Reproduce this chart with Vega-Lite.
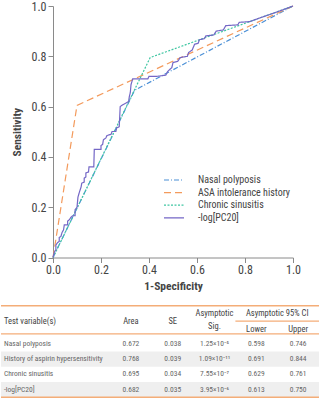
{
  "$schema": "https://vega.github.io/schema/vega-lite/v6.json",
  "width": 319,
  "height": 251.5,
  "padding": 0,
  "background": "white",
  "config": {
    "view": {"stroke": null},
    "font": "Liberation Sans Narrow, Roboto Condensed, Arial Narrow, sans-serif",
    "axis": {"grid": false, "domainColor": "#8a8a8a", "tickColor": "#8a8a8a", "labelColor": "#444444", "titleColor": "#444444", "labelFontSize": 12, "titleFontSize": 11.5, "tickSize": 5, "labelFlush": false}
  },
  "datasets": {
    "roc": [
      {"series": "Nasal polyposis", "i": 0, "fpr": 0, "tpr": 0},
      {"series": "Nasal polyposis", "i": 1, "fpr": 0.34, "tpr": 0.665},
      {"series": "Nasal polyposis", "i": 2, "fpr": 1, "tpr": 1},
      {"series": "ASA intolerance history", "i": 0, "fpr": 0, "tpr": 0},
      {"series": "ASA intolerance history", "i": 1, "fpr": 0.1, "tpr": 0.605},
      {"series": "ASA intolerance history", "i": 2, "fpr": 1, "tpr": 1},
      {"series": "Chronic sinusitis", "i": 0, "fpr": 0, "tpr": 0},
      {"series": "Chronic sinusitis", "i": 1, "fpr": 0.405, "tpr": 0.795},
      {"series": "Chronic sinusitis", "i": 2, "fpr": 1, "tpr": 1},
      {"series": "-log[PC20]", "i": 0, "fpr": 0, "tpr": 0},
      {"series": "-log[PC20]", "i": 1, "fpr": 0.005, "tpr": 0.02},
      {"series": "-log[PC20]", "i": 2, "fpr": 0.012, "tpr": 0.031},
      {"series": "-log[PC20]", "i": 3, "fpr": 0.012, "tpr": 0.05},
      {"series": "-log[PC20]", "i": 4, "fpr": 0.02, "tpr": 0.06},
      {"series": "-log[PC20]", "i": 5, "fpr": 0.026, "tpr": 0.064},
      {"series": "-log[PC20]", "i": 6, "fpr": 0.026, "tpr": 0.08},
      {"series": "-log[PC20]", "i": 7, "fpr": 0.033, "tpr": 0.084},
      {"series": "-log[PC20]", "i": 8, "fpr": 0.038, "tpr": 0.1},
      {"series": "-log[PC20]", "i": 9, "fpr": 0.044, "tpr": 0.11},
      {"series": "-log[PC20]", "i": 10, "fpr": 0.047, "tpr": 0.13},
      {"series": "-log[PC20]", "i": 11, "fpr": 0.061, "tpr": 0.13},
      {"series": "-log[PC20]", "i": 12, "fpr": 0.061, "tpr": 0.145},
      {"series": "-log[PC20]", "i": 13, "fpr": 0.068, "tpr": 0.15},
      {"series": "-log[PC20]", "i": 14, "fpr": 0.075, "tpr": 0.16},
      {"series": "-log[PC20]", "i": 15, "fpr": 0.082, "tpr": 0.166},
      {"series": "-log[PC20]", "i": 16, "fpr": 0.092, "tpr": 0.166},
      {"series": "-log[PC20]", "i": 17, "fpr": 0.092, "tpr": 0.19},
      {"series": "-log[PC20]", "i": 18, "fpr": 0.1, "tpr": 0.2},
      {"series": "-log[PC20]", "i": 19, "fpr": 0.104, "tpr": 0.24},
      {"series": "-log[PC20]", "i": 20, "fpr": 0.11, "tpr": 0.26},
      {"series": "-log[PC20]", "i": 21, "fpr": 0.117, "tpr": 0.28},
      {"series": "-log[PC20]", "i": 22, "fpr": 0.12, "tpr": 0.296},
      {"series": "-log[PC20]", "i": 23, "fpr": 0.13, "tpr": 0.3},
      {"series": "-log[PC20]", "i": 24, "fpr": 0.13, "tpr": 0.316},
      {"series": "-log[PC20]", "i": 25, "fpr": 0.137, "tpr": 0.32},
      {"series": "-log[PC20]", "i": 26, "fpr": 0.137, "tpr": 0.336},
      {"series": "-log[PC20]", "i": 27, "fpr": 0.148, "tpr": 0.34},
      {"series": "-log[PC20]", "i": 28, "fpr": 0.15, "tpr": 0.36},
      {"series": "-log[PC20]", "i": 29, "fpr": 0.17, "tpr": 0.36},
      {"series": "-log[PC20]", "i": 30, "fpr": 0.172, "tpr": 0.43},
      {"series": "-log[PC20]", "i": 31, "fpr": 0.2, "tpr": 0.43},
      {"series": "-log[PC20]", "i": 32, "fpr": 0.2, "tpr": 0.445},
      {"series": "-log[PC20]", "i": 33, "fpr": 0.207, "tpr": 0.45},
      {"series": "-log[PC20]", "i": 34, "fpr": 0.21, "tpr": 0.468},
      {"series": "-log[PC20]", "i": 35, "fpr": 0.22, "tpr": 0.475},
      {"series": "-log[PC20]", "i": 36, "fpr": 0.225, "tpr": 0.485},
      {"series": "-log[PC20]", "i": 37, "fpr": 0.242, "tpr": 0.49},
      {"series": "-log[PC20]", "i": 38, "fpr": 0.246, "tpr": 0.501},
      {"series": "-log[PC20]", "i": 39, "fpr": 0.262, "tpr": 0.501},
      {"series": "-log[PC20]", "i": 40, "fpr": 0.265, "tpr": 0.515},
      {"series": "-log[PC20]", "i": 41, "fpr": 0.276, "tpr": 0.52},
      {"series": "-log[PC20]", "i": 42, "fpr": 0.28, "tpr": 0.6},
      {"series": "-log[PC20]", "i": 43, "fpr": 0.29, "tpr": 0.607},
      {"series": "-log[PC20]", "i": 44, "fpr": 0.304, "tpr": 0.614},
      {"series": "-log[PC20]", "i": 45, "fpr": 0.315, "tpr": 0.62},
      {"series": "-log[PC20]", "i": 46, "fpr": 0.318, "tpr": 0.64},
      {"series": "-log[PC20]", "i": 47, "fpr": 0.322, "tpr": 0.655},
      {"series": "-log[PC20]", "i": 48, "fpr": 0.325, "tpr": 0.687},
      {"series": "-log[PC20]", "i": 49, "fpr": 0.332, "tpr": 0.71},
      {"series": "-log[PC20]", "i": 50, "fpr": 0.395, "tpr": 0.71},
      {"series": "-log[PC20]", "i": 51, "fpr": 0.4, "tpr": 0.72},
      {"series": "-log[PC20]", "i": 52, "fpr": 0.43, "tpr": 0.72},
      {"series": "-log[PC20]", "i": 53, "fpr": 0.47, "tpr": 0.725},
      {"series": "-log[PC20]", "i": 54, "fpr": 0.478, "tpr": 0.74},
      {"series": "-log[PC20]", "i": 55, "fpr": 0.495, "tpr": 0.755},
      {"series": "-log[PC20]", "i": 56, "fpr": 0.5, "tpr": 0.775},
      {"series": "-log[PC20]", "i": 57, "fpr": 0.52, "tpr": 0.78},
      {"series": "-log[PC20]", "i": 58, "fpr": 0.53, "tpr": 0.795},
      {"series": "-log[PC20]", "i": 59, "fpr": 0.56, "tpr": 0.8},
      {"series": "-log[PC20]", "i": 60, "fpr": 0.565, "tpr": 0.815},
      {"series": "-log[PC20]", "i": 61, "fpr": 0.58, "tpr": 0.825},
      {"series": "-log[PC20]", "i": 62, "fpr": 0.59, "tpr": 0.848},
      {"series": "-log[PC20]", "i": 63, "fpr": 0.605, "tpr": 0.852},
      {"series": "-log[PC20]", "i": 64, "fpr": 0.61, "tpr": 0.866},
      {"series": "-log[PC20]", "i": 65, "fpr": 0.63, "tpr": 0.87},
      {"series": "-log[PC20]", "i": 66, "fpr": 0.637, "tpr": 0.881},
      {"series": "-log[PC20]", "i": 67, "fpr": 0.67, "tpr": 0.885},
      {"series": "-log[PC20]", "i": 68, "fpr": 0.68, "tpr": 0.9},
      {"series": "-log[PC20]", "i": 69, "fpr": 0.71, "tpr": 0.905},
      {"series": "-log[PC20]", "i": 70, "fpr": 0.72, "tpr": 0.922},
      {"series": "-log[PC20]", "i": 71, "fpr": 0.77, "tpr": 0.925},
      {"series": "-log[PC20]", "i": 72, "fpr": 0.776, "tpr": 0.935},
      {"series": "-log[PC20]", "i": 73, "fpr": 0.82, "tpr": 0.938},
      {"series": "-log[PC20]", "i": 74, "fpr": 0.86, "tpr": 0.952},
      {"series": "-log[PC20]", "i": 75, "fpr": 0.93, "tpr": 0.975},
      {"series": "-log[PC20]", "i": 76, "fpr": 1, "tpr": 1}
    ],
    "table": [
      {"variable": "Nasal polyposis", "Area": "0.672", "SE": "0.038", "Sig": "1.25×10⁻⁵", "Lower": "0.598", "Upper": "0.746"},
      {"variable": "History of aspirin hypersensitivity", "Area": "0.768", "SE": "0.039", "Sig": "1.09×10⁻¹¹", "Lower": "0.691", "Upper": "0.844"},
      {"variable": "Chronic sinusitis", "Area": "0.695", "SE": "0.034", "Sig": "7.55×10⁻⁷", "Lower": "0.629", "Upper": "0.761"},
      {"variable": "-log[PC20]", "Area": "0.682", "SE": "0.035", "Sig": "3.95×10⁻⁶", "Lower": "0.613", "Upper": "0.750"}
    ]
  },
  "layer": [
    {
      "data": {"name": "roc"},
      "mark": {"type": "line", "strokeWidth": 1.2},
      "encoding": {
        "x": {"field": "fpr", "type": "quantitative", "scale": {"domain": [0, 1], "range": [52, 292], "nice": false, "zero": false},
              "axis": {"title": "1-Specificity", "values": [0, 0.2, 0.4, 0.6, 0.8, 1], "format": ".1f", "labelFlush": false, "labelPadding": 2, "titlePadding": 5, "titleFontWeight": "bold"}},
        "y": {"field": "tpr", "type": "quantitative", "scale": {"domain": [0, 1], "nice": false},
              "axis": {"title": "Sensitivity", "offset": -52, "values": [0, 0.2, 0.4, 0.6, 0.8, 1], "format": ".1f", "labelFlush": false, "labelPadding": 2, "titlePadding": 8, "titleFontWeight": "bold"}},
        "color": {"field": "series", "type": "nominal",
                  "scale": {"domain": ["Nasal polyposis", "ASA intolerance history", "Chronic sinusitis", "-log[PC20]"], "range": ["#4a8fd6", "#f39a5c", "#3fc6a2", "#7467c6"]},
                  "legend": {"orient": "none", "legendX": 167, "legendY": 168, "title": null, "symbolType": "M-2,0H2", "symbolSize": 100, "symbolStrokeWidth": 1.2, "labelFontSize": 10, "labelColor": "#444444", "labelOffset": 18, "rowPadding": 1.6}},
        "strokeDash": {"field": "series", "type": "nominal",
                  "scale": {"domain": ["Nasal polyposis", "ASA intolerance history", "Chronic sinusitis", "-log[PC20]"], "range": [[5, 2, 1, 2], [7, 4], [2, 1.5], [1, 0]]},
                  "legend": {"orient": "none", "legendX": 167, "legendY": 168, "title": null, "symbolType": "M-2,0H2", "symbolSize": 100, "symbolStrokeWidth": 1.2, "labelFontSize": 10, "labelColor": "#444444", "labelOffset": 18, "rowPadding": 1.6}},
        "order": {"field": "i", "type": "quantitative"}
      }
    },
    {
      "layer": [
        {
          "data": {"name": "table"},
          "transform": [{"filter": {"field": "variable", "oneOf": ["History of aspirin hypersensitivity", "-log[PC20]"]}}],
          "mark": {"type": "bar", "color": "#efefef"},
          "encoding": {
            "y": {"field": "variable", "type": "nominal", "axis": null,
                  "scale": {"type": "band", "domain": ["h1", "h2", "Nasal polyposis", "History of aspirin hypersensitivity", "Chronic sinusitis", "-log[PC20]"], "range": [299.8, 391.3], "paddingInner": 0, "paddingOuter": 0}}
          }
        },
        {
          "data": {"values": [{}]},
          "mark": {"type": "rule", "color": "#f4ad78", "strokeWidth": 1.5},
          "encoding": {"y": {"datum": "h1", "type": "nominal", "bandPosition": 0, "axis": null}}
        },
        {
          "data": {"values": [{}]},
          "mark": {"type": "rule", "color": "#f4ad78", "strokeWidth": 1.2},
          "encoding": {"y": {"datum": "h2", "type": "nominal", "bandPosition": 0.84, "axis": null}}
        },
        {
          "data": {"values": [{}]},
          "mark": {"type": "rule", "color": "#f4ad78", "strokeWidth": 1.5},
          "encoding": {"y": {"datum": "-log[PC20]", "type": "nominal", "bandPosition": 1, "axis": null}}
        },
        {
          "data": {"values": [{}]},
          "mark": {"type": "rule", "color": "#f4ad78", "strokeWidth": 1.2},
          "encoding": {
            "x": {"datum": "Lower", "type": "nominal", "bandPosition": 0, "axis": null,
                  "scale": {"type": "band", "domain": ["Area", "SE", "Sig", "Lower", "Upper"], "range": [109, 318], "paddingInner": 0, "paddingOuter": 0}},
            "x2": {"datum": "Upper", "bandPosition": 1},
            "y": {"datum": "h1", "type": "nominal", "bandPosition": 1, "axis": null}
          }
        },
        {
          "data": {"name": "table"},
          "transform": [{"fold": ["Area", "SE", "Sig", "Lower", "Upper"], "as": ["col", "val"]}],
          "mark": {"type": "text", "fontSize": 7.5, "color": "#666666"},
          "encoding": {
            "x": {"field": "col", "type": "nominal", "axis": null},
            "y": {"field": "variable", "type": "nominal", "axis": null},
            "text": {"field": "val"}
          }
        },
        {
          "data": {"name": "table"},
          "mark": {"type": "text", "fontSize": 7.5, "color": "#666666", "align": "left", "dx": -106},
          "encoding": {
            "x": {"datum": "Area", "type": "nominal", "bandPosition": 0, "axis": null},
            "y": {"field": "variable", "type": "nominal", "axis": null},
            "text": {"field": "variable"}
          }
        },
        {
          "data": {"values": [{}]},
          "mark": {"type": "text", "fontSize": 8.5, "color": "#444444", "align": "left", "dx": -106},
          "encoding": {
            "x": {"datum": "Area", "type": "nominal", "bandPosition": 0, "axis": null},
            "y": {"datum": "h1", "type": "nominal", "bandPosition": 1, "axis": null},
            "text": {"value": "Test variable(s)"}
          }
        },
        {
          "data": {"values": [{}]},
          "mark": {"type": "text", "fontSize": 8.5, "color": "#444444"},
          "encoding": {
            "x": {"datum": "Area", "type": "nominal", "axis": null},
            "y": {"datum": "h1", "type": "nominal", "bandPosition": 1, "axis": null},
            "text": {"value": "Area"}
          }
        },
        {
          "data": {"values": [{}]},
          "mark": {"type": "text", "fontSize": 8.5, "color": "#444444"},
          "encoding": {
            "x": {"datum": "SE", "type": "nominal", "axis": null},
            "y": {"datum": "h1", "type": "nominal", "bandPosition": 1, "axis": null},
            "text": {"value": "SE"}
          }
        },
        {
          "data": {"values": [{}]},
          "mark": {"type": "text", "fontSize": 8.5, "color": "#444444"},
          "encoding": {
            "x": {"datum": "Sig", "type": "nominal", "axis": null},
            "y": {"datum": "h1", "type": "nominal", "bandPosition": 0.5, "axis": null},
            "text": {"value": "Asymptotic"}
          }
        },
        {
          "data": {"values": [{}]},
          "mark": {"type": "text", "fontSize": 8.5, "color": "#444444"},
          "encoding": {
            "x": {"datum": "Sig", "type": "nominal", "axis": null},
            "y": {"datum": "h2", "type": "nominal", "bandPosition": 0.3, "axis": null},
            "text": {"value": "Sig."}
          }
        },
        {
          "data": {"values": [{}]},
          "mark": {"type": "text", "fontSize": 8.5, "color": "#444444"},
          "encoding": {
            "x": {"datum": "Lower", "type": "nominal", "bandPosition": 1, "axis": null},
            "y": {"datum": "h1", "type": "nominal", "bandPosition": 0.5, "axis": null},
            "text": {"value": "Asymptotic 95% CI"}
          }
        },
        {
          "data": {"values": [{}]},
          "mark": {"type": "text", "fontSize": 8.5, "color": "#444444"},
          "encoding": {
            "x": {"datum": "Lower", "type": "nominal", "axis": null},
            "y": {"datum": "h2", "type": "nominal", "bandPosition": 0.5, "axis": null},
            "text": {"value": "Lower"}
          }
        },
        {
          "data": {"values": [{}]},
          "mark": {"type": "text", "fontSize": 8.5, "color": "#444444"},
          "encoding": {
            "x": {"datum": "Upper", "type": "nominal", "axis": null},
            "y": {"datum": "h2", "type": "nominal", "bandPosition": 0.5, "axis": null},
            "text": {"value": "Upper"}
          }
        }
      ]
    }
  ],
  "resolve": {"scale": {"x": "independent", "y": "independent"}}
}
